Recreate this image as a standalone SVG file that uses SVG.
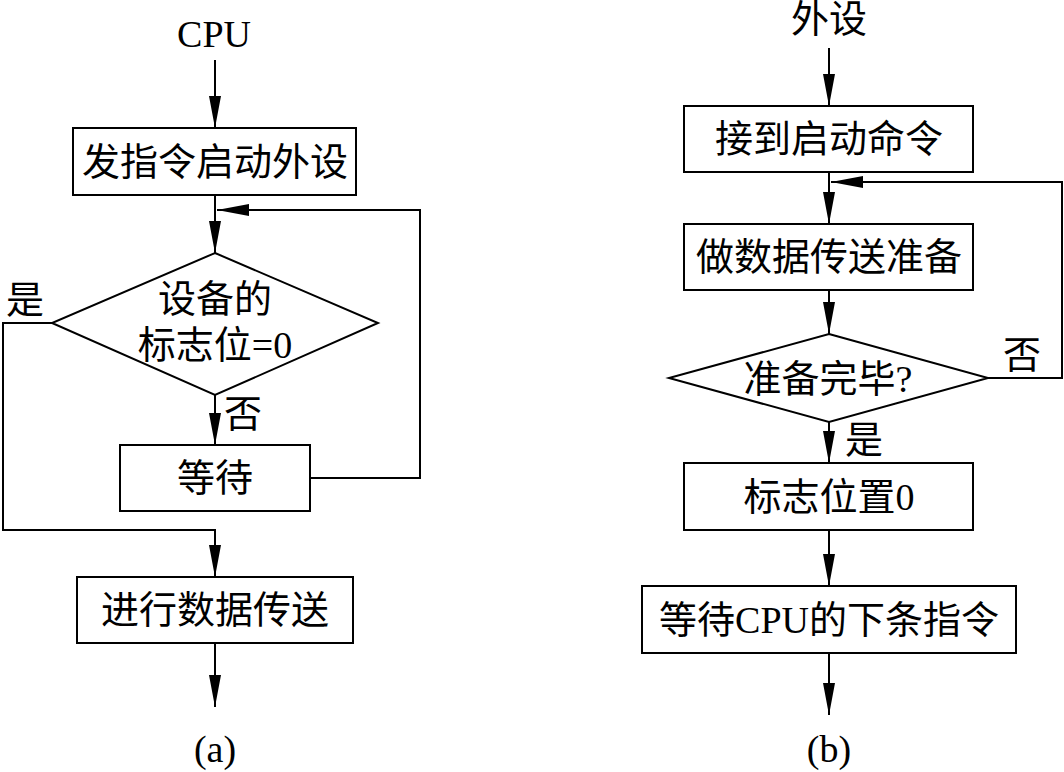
<svg xmlns="http://www.w3.org/2000/svg" width="1064" height="772" viewBox="0 0 1064 772">
<style>
.box{fill:#fff;stroke:#000;stroke-width:2}
.ln{fill:none;stroke:#000;stroke-width:2}
.t{font-family:"Liberation Serif","Noto Sans CJK SC",serif;font-size:38px;fill:#000;text-anchor:middle;dominant-baseline:central}
.b{font-family:"Liberation Serif","Noto Sans CJK SC",serif;font-size:38px;fill:#000;text-anchor:middle}
</style>
<defs>
<marker id="ah" markerUnits="userSpaceOnUse" markerWidth="32" markerHeight="12" refX="32" refY="6" orient="auto">
<path d="M0,0 L32,6 L0,12 z" fill="#000"/>
</marker>
</defs>
<rect width="1064" height="772" fill="#fff"/>
<g id="connectors">
<!-- (a) -->
<line class="ln" x1="215" y1="60" x2="215" y2="128" marker-end="url(#ah)"/>
<line class="ln" x1="215" y1="195" x2="215" y2="253" marker-end="url(#ah)"/>
<polyline class="ln" points="310,478 420,478 420,210 217,210" marker-end="url(#ah)"/>
<line class="ln" x1="215" y1="395" x2="215" y2="445" marker-end="url(#ah)"/>
<polyline class="ln" points="52,323 3,323 3,530 215,530 215,577" marker-end="url(#ah)"/>
<line class="ln" x1="215" y1="643" x2="215" y2="707" marker-end="url(#ah)"/>
<!-- (b) -->
<line class="ln" x1="829" y1="48" x2="829" y2="106" marker-end="url(#ah)"/>
<line class="ln" x1="829" y1="172" x2="829" y2="224" marker-end="url(#ah)"/>
<polyline class="ln" points="988,378 1062,378 1062,182 831,182" marker-end="url(#ah)"/>
<line class="ln" x1="829" y1="290" x2="829" y2="334" marker-end="url(#ah)"/>
<line class="ln" x1="829" y1="422" x2="829" y2="463" marker-end="url(#ah)"/>
<line class="ln" x1="829" y1="530" x2="829" y2="586" marker-end="url(#ah)"/>
<line class="ln" x1="829" y1="653" x2="829" y2="715" marker-end="url(#ah)"/>
</g>
<g id="a-title"><text class="b" x="214" y="47">CPU</text></g>
<g id="a-start"><rect class="box" x="73" y="128" width="283" height="67"/><text class="t" x="215" y="162">发指令启动外设</text></g>
<g id="a-decision"><polygon class="box" points="215,253 378,323 215,395 52,323"/><text class="t" x="215" y="299">设备的</text><text class="t" x="215" y="345">标志位=0</text></g>
<g id="a-yes"><text class="t" x="25" y="300">是</text></g>
<g id="a-no"><text class="t" x="243" y="414">否</text></g>
<g id="a-wait"><rect class="box" x="120" y="445" width="190" height="66"/><text class="t" x="215" y="478">等待</text></g>
<g id="a-transfer"><rect class="box" x="77" y="577" width="276" height="66"/><text class="t" x="215" y="610">进行数据传送</text></g>
<g id="a-label"><text class="b" x="215" y="762">(a)</text></g>
<g id="b-title"><text class="t" x="829" y="19">外设</text></g>
<g id="b-recv"><rect class="box" x="684" y="106" width="289" height="66"/><text class="t" x="829" y="139">接到启动命令</text></g>
<g id="b-prep"><rect class="box" x="684" y="224" width="289" height="66"/><text class="t" x="829" y="257">做数据传送准备</text></g>
<g id="b-decision"><polygon class="box" points="829,334 988,378 829,422 669,378"/><text class="t" x="828" y="379">准备完毕?</text></g>
<g id="b-no"><text class="t" x="1022" y="355">否</text></g>
<g id="b-yes"><text class="t" x="864" y="440">是</text></g>
<g id="b-flag"><rect class="box" x="684" y="463" width="289" height="67"/><text class="t" x="829" y="497">标志位置0</text></g>
<g id="b-wait"><rect class="box" x="642" y="586" width="374" height="67"/><text class="t" x="829" y="620">等待CPU的下条指令</text></g>
<g id="b-label"><text class="b" x="829" y="762">(b)</text></g>
</svg>
